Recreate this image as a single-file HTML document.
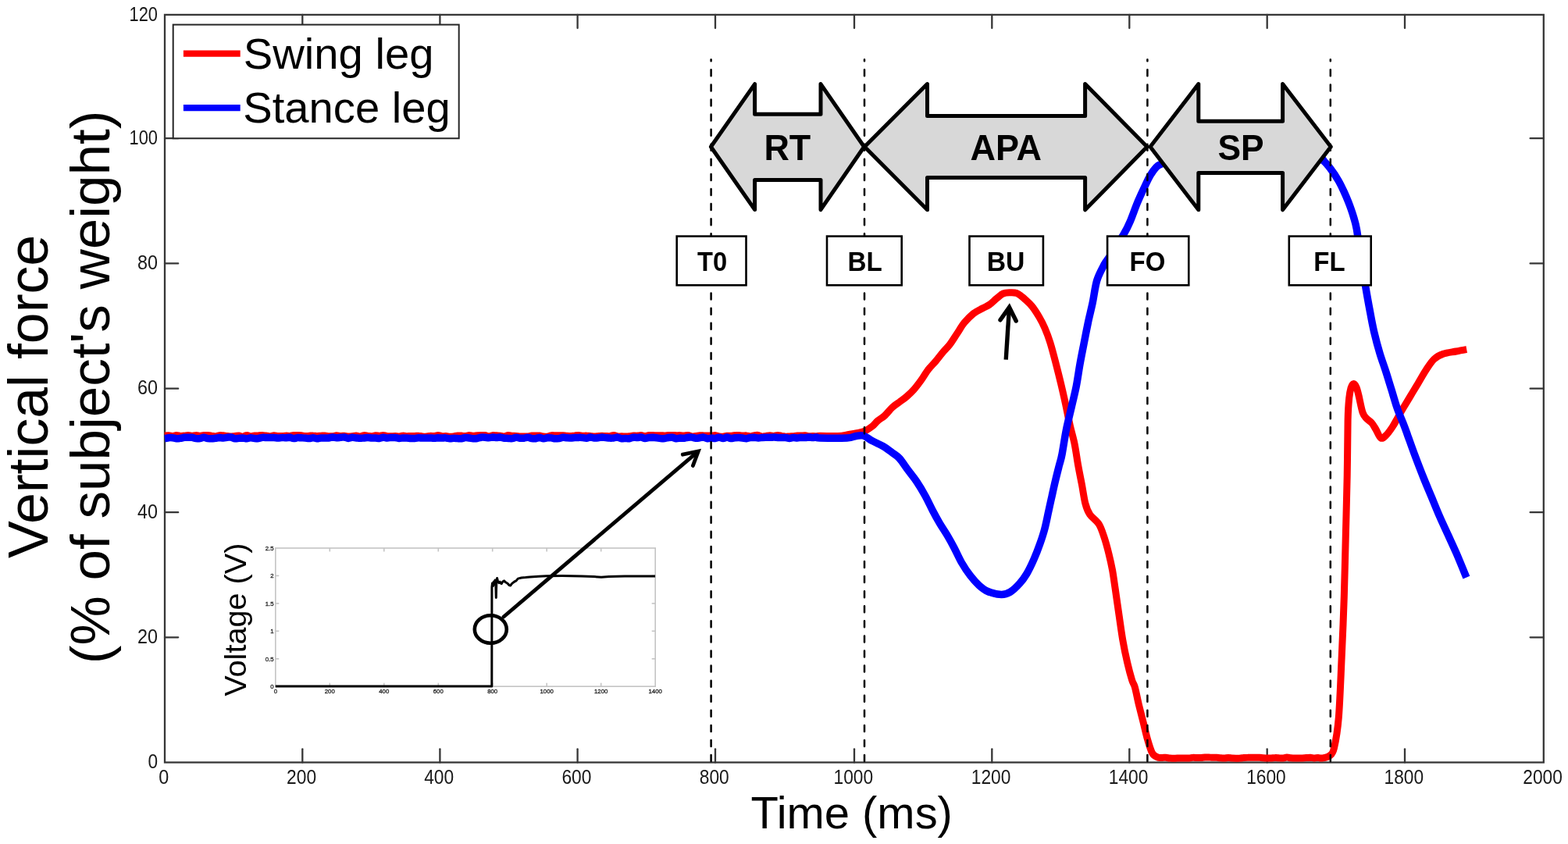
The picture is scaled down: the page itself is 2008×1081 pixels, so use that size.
<!DOCTYPE html><html><head><meta charset="utf-8"><title>Vertical force</title><style>html,body{margin:0;padding:0;background:#fff;width:2008px;height:1081px;overflow:hidden}svg{display:block}text{font-family:"Liberation Sans",Arial,sans-serif}</style></head><body>
<svg width="2008" height="1081" viewBox="0 0 2008 1081">
<rect x="0" y="0" width="2008" height="1081" fill="#fff"/>
<g stroke="#363636" stroke-width="2.3" fill="none">
<rect x="211" y="18.9" width="1765.8" height="957.6"/>
<line x1="387.3" y1="976.5" x2="387.3" y2="959.3" stroke-linecap="round"/>
<line x1="387.3" y1="18.9" x2="387.3" y2="36.1" stroke-linecap="round"/>
<line x1="563.4" y1="976.5" x2="563.4" y2="959.3" stroke-linecap="round"/>
<line x1="563.4" y1="18.9" x2="563.4" y2="36.1" stroke-linecap="round"/>
<line x1="739.6" y1="976.5" x2="739.6" y2="959.3" stroke-linecap="round"/>
<line x1="739.6" y1="18.9" x2="739.6" y2="36.1" stroke-linecap="round"/>
<line x1="916.0" y1="976.5" x2="916.0" y2="959.3" stroke-linecap="round"/>
<line x1="916.0" y1="18.9" x2="916.0" y2="36.1" stroke-linecap="round"/>
<line x1="1094.0" y1="976.5" x2="1094.0" y2="959.3" stroke-linecap="round"/>
<line x1="1094.0" y1="18.9" x2="1094.0" y2="36.1" stroke-linecap="round"/>
<line x1="1270.3" y1="976.5" x2="1270.3" y2="959.3" stroke-linecap="round"/>
<line x1="1270.3" y1="18.9" x2="1270.3" y2="36.1" stroke-linecap="round"/>
<line x1="1446.3" y1="976.5" x2="1446.3" y2="959.3" stroke-linecap="round"/>
<line x1="1446.3" y1="18.9" x2="1446.3" y2="36.1" stroke-linecap="round"/>
<line x1="1622.7" y1="976.5" x2="1622.7" y2="959.3" stroke-linecap="round"/>
<line x1="1622.7" y1="18.9" x2="1622.7" y2="36.1" stroke-linecap="round"/>
<line x1="1799.0" y1="976.5" x2="1799.0" y2="959.3" stroke-linecap="round"/>
<line x1="1799.0" y1="18.9" x2="1799.0" y2="36.1" stroke-linecap="round"/>
<line x1="211" y1="816.3" x2="228.2" y2="816.3" stroke-linecap="round"/>
<line x1="1976.8" y1="816.3" x2="1959.6" y2="816.3" stroke-linecap="round"/>
<line x1="211" y1="656.2" x2="228.2" y2="656.2" stroke-linecap="round"/>
<line x1="1976.8" y1="656.2" x2="1959.6" y2="656.2" stroke-linecap="round"/>
<line x1="211" y1="497.7" x2="228.2" y2="497.7" stroke-linecap="round"/>
<line x1="1976.8" y1="497.7" x2="1959.6" y2="497.7" stroke-linecap="round"/>
<line x1="211" y1="337.4" x2="228.2" y2="337.4" stroke-linecap="round"/>
<line x1="1976.8" y1="337.4" x2="1959.6" y2="337.4" stroke-linecap="round"/>
<line x1="211" y1="177.2" x2="228.2" y2="177.2" stroke-linecap="round"/>
<line x1="1976.8" y1="177.2" x2="1959.6" y2="177.2" stroke-linecap="round"/>
</g>
<path d="M211.0,558.0 C211.8,557.9 214.3,557.6 216.0,557.7 C217.7,557.8 219.3,558.6 221.0,558.6 C222.7,558.5 224.3,557.6 226.0,557.5 C227.7,557.5 229.3,558.3 231.0,558.4 C232.7,558.5 234.3,558.2 236.0,558.1 C237.7,557.9 239.3,557.5 241.0,557.5 C242.7,557.5 244.3,558.3 246.0,558.3 C247.7,558.3 249.3,557.5 251.0,557.5 C252.7,557.4 254.3,558.2 256.0,558.2 C257.7,558.2 259.3,557.6 261.0,557.5 C262.7,557.4 264.3,557.5 266.0,557.6 C267.7,557.7 269.3,557.9 271.0,558.2 C272.7,558.4 274.3,559.0 276.0,558.9 C277.7,558.8 279.3,557.8 281.0,557.6 C282.7,557.4 284.3,557.7 286.0,557.8 C287.7,558.0 289.3,558.3 291.0,558.5 C292.7,558.7 294.3,559.1 296.0,559.1 C297.7,559.1 299.3,558.6 301.0,558.4 C302.7,558.3 304.3,558.0 306.0,558.1 C307.7,558.2 309.3,559.3 311.0,559.2 C312.7,559.1 314.3,557.5 316.0,557.5 C317.7,557.4 319.3,558.9 321.0,558.9 C322.7,559.0 324.3,558.1 326.0,557.9 C327.7,557.7 329.3,557.7 331.0,557.7 C332.7,557.6 334.3,557.6 336.0,557.6 C337.7,557.7 339.3,557.7 341.0,558.0 C342.7,558.2 344.3,558.9 346.0,558.9 C347.7,558.8 349.3,557.8 351.0,557.7 C352.7,557.7 354.3,558.3 356.0,558.4 C357.7,558.6 359.3,558.6 361.0,558.6 C362.7,558.5 364.3,558.1 366.0,558.1 C367.7,558.0 369.3,558.5 371.0,558.4 C372.7,558.3 374.3,557.7 376.0,557.5 C377.7,557.4 379.3,557.5 381.0,557.5 C382.7,557.6 384.3,557.6 386.0,557.8 C387.7,558.0 389.3,558.6 391.0,558.6 C392.7,558.7 394.3,558.3 396.0,558.2 C397.7,558.1 399.3,557.9 401.0,558.0 C402.7,558.0 404.3,558.4 406.0,558.5 C407.7,558.5 409.3,558.3 411.0,558.2 C412.7,558.1 414.3,557.8 416.0,557.9 C417.7,558.0 419.3,558.7 421.0,558.8 C422.7,558.9 424.3,558.8 426.0,558.7 C427.7,558.5 429.3,557.9 431.0,557.8 C432.7,557.8 434.3,558.3 436.0,558.4 C437.7,558.5 439.3,558.3 441.0,558.3 C442.7,558.4 444.3,558.9 446.0,559.0 C447.7,559.0 449.3,558.9 451.0,558.7 C452.7,558.5 454.3,557.8 456.0,557.9 C457.7,558.0 459.3,559.2 461.0,559.2 C462.7,559.1 464.3,557.8 466.0,557.6 C467.7,557.4 469.3,558.0 471.0,558.2 C472.7,558.3 474.3,558.8 476.0,558.8 C477.7,558.7 479.3,557.8 481.0,557.7 C482.7,557.6 484.3,558.3 486.0,558.3 C487.7,558.2 489.3,557.4 491.0,557.5 C492.7,557.5 494.3,558.4 496.0,558.6 C497.7,558.8 499.3,558.8 501.0,558.8 C502.7,558.7 504.3,558.4 506.0,558.4 C507.7,558.5 509.3,559.1 511.0,559.0 C512.7,558.9 514.3,558.0 516.0,558.0 C517.7,557.9 519.3,558.6 521.0,558.7 C522.7,558.7 524.3,558.5 526.0,558.5 C527.7,558.4 529.3,558.5 531.0,558.4 C532.7,558.4 534.3,558.1 536.0,558.2 C537.7,558.3 539.3,558.8 541.0,558.9 C542.7,559.1 544.3,559.2 546.0,559.1 C547.7,559.0 549.3,558.3 551.0,558.3 C552.7,558.2 554.3,558.7 556.0,558.6 C557.7,558.5 559.3,557.5 561.0,557.5 C562.7,557.5 564.3,558.5 566.0,558.7 C567.7,558.8 569.3,558.5 571.0,558.6 C572.7,558.7 574.3,559.1 576.0,559.2 C577.7,559.2 579.3,559.1 581.0,558.9 C582.7,558.7 584.3,558.0 586.0,557.9 C587.7,557.8 589.3,558.0 591.0,558.1 C592.7,558.2 594.3,558.7 596.0,558.6 C597.7,558.5 599.3,557.5 601.0,557.4 C602.7,557.4 604.3,558.2 606.0,558.2 C607.7,558.3 609.3,557.8 611.0,557.7 C612.7,557.6 614.3,557.6 616.0,557.6 C617.7,557.6 619.3,557.3 621.0,557.5 C622.7,557.7 624.3,558.8 626.0,558.8 C627.7,558.8 629.3,557.8 631.0,557.6 C632.7,557.5 634.3,557.8 636.0,557.8 C637.7,557.9 639.3,557.9 641.0,558.1 C642.7,558.3 644.3,559.1 646.0,559.0 C647.7,558.9 649.3,557.7 651.0,557.5 C652.7,557.4 654.3,558.1 656.0,558.2 C657.7,558.3 659.3,558.3 661.0,558.4 C662.7,558.5 664.3,558.9 666.0,559.0 C667.7,559.1 669.3,558.9 671.0,558.9 C672.7,558.9 674.3,559.1 676.0,559.0 C677.7,558.8 679.3,558.0 681.0,557.9 C682.7,557.8 684.3,558.1 686.0,558.1 C687.7,558.2 689.3,557.9 691.0,558.0 C692.7,558.2 694.3,558.8 696.0,559.0 C697.7,559.2 699.3,559.3 701.0,559.1 C702.7,558.9 704.3,557.9 706.0,557.7 C707.7,557.4 709.3,557.7 711.0,557.7 C712.7,557.7 714.3,557.8 716.0,557.8 C717.7,557.8 719.3,557.7 721.0,557.8 C722.7,557.9 724.3,558.2 726.0,558.3 C727.7,558.4 729.3,558.5 731.0,558.5 C732.7,558.4 734.3,558.0 736.0,557.9 C737.7,557.7 739.3,557.4 741.0,557.4 C742.7,557.5 744.3,558.0 746.0,558.2 C747.7,558.3 749.3,558.0 751.0,558.1 C752.7,558.1 754.3,558.2 756.0,558.4 C757.7,558.6 759.3,559.1 761.0,559.1 C762.7,559.2 764.3,558.8 766.0,558.6 C767.7,558.5 769.3,558.3 771.0,558.3 C772.7,558.3 774.3,558.5 776.0,558.5 C777.7,558.6 779.3,558.8 781.0,558.6 C782.7,558.4 784.3,557.4 786.0,557.5 C787.7,557.6 789.3,558.8 791.0,559.0 C792.7,559.2 794.3,558.8 796.0,558.8 C797.7,558.8 799.3,559.0 801.0,559.0 C802.7,559.0 804.3,559.0 806.0,558.8 C807.7,558.7 809.3,558.2 811.0,558.1 C812.7,558.0 814.3,558.2 816.0,558.1 C817.7,558.0 819.3,557.5 821.0,557.6 C822.7,557.7 824.3,558.6 826.0,558.5 C827.7,558.5 829.3,557.7 831.0,557.5 C832.7,557.3 834.3,557.5 836.0,557.5 C837.7,557.6 839.3,557.7 841.0,557.8 C842.7,557.8 844.3,557.7 846.0,557.7 C847.7,557.7 849.3,558.0 851.0,558.0 C852.7,558.0 854.3,557.6 856.0,557.5 C857.7,557.4 859.3,557.4 861.0,557.4 C862.7,557.4 864.3,557.6 866.0,557.7 C867.7,557.7 869.3,557.5 871.0,557.6 C872.7,557.6 874.3,558.1 876.0,558.1 C877.7,558.0 879.3,557.3 881.0,557.4 C882.7,557.6 884.3,558.8 886.0,559.0 C887.7,559.2 889.3,558.7 891.0,558.5 C892.7,558.3 894.3,557.8 896.0,557.7 C897.7,557.6 899.3,557.8 901.0,557.9 C902.7,557.9 904.3,558.0 906.0,558.0 C907.7,558.1 909.3,558.1 911.0,558.1 C912.7,558.0 914.3,557.5 916.0,557.6 C917.7,557.8 919.3,558.7 921.0,558.9 C922.7,559.2 924.3,559.3 926.0,559.2 C927.7,559.1 929.3,558.4 931.0,558.2 C932.7,558.1 934.3,558.4 936.0,558.3 C937.7,558.2 939.3,557.7 941.0,557.6 C942.7,557.4 944.3,557.5 946.0,557.6 C947.7,557.7 949.3,558.0 951.0,558.0 C952.7,558.1 954.3,557.7 956.0,557.9 C957.7,558.0 959.3,558.9 961.0,558.9 C962.7,558.9 964.3,557.9 966.0,557.7 C967.7,557.4 969.3,557.2 971.0,557.4 C972.7,557.7 974.3,559.0 976.0,559.1 C977.7,559.3 979.3,558.6 981.0,558.4 C982.7,558.1 984.3,557.7 986.0,557.7 C987.7,557.7 989.3,558.4 991.0,558.4 C992.7,558.3 994.3,557.5 996.0,557.4 C997.7,557.4 999.3,558.1 1001.0,558.4 C1002.7,558.6 1004.3,559.1 1006.0,559.2 C1007.7,559.3 1009.3,559.0 1011.0,559.0 C1012.7,558.9 1014.3,558.8 1016.0,558.7 C1017.7,558.5 1019.3,558.0 1021.0,557.9 C1022.7,557.8 1024.3,558.1 1026.0,558.1 C1027.7,558.0 1029.3,557.6 1031.0,557.7 C1032.7,557.8 1034.3,558.7 1036.0,558.8 C1037.7,558.9 1039.3,558.4 1041.0,558.4 C1042.7,558.4 1044.5,558.8 1046.0,558.8 C1047.5,558.8 1045.5,558.4 1050.0,558.3 C1054.5,558.2 1066.8,558.8 1073.0,558.5 C1079.2,558.2 1083.2,557.1 1087.0,556.5 C1090.8,555.9 1092.7,555.7 1096.0,555.0 C1099.3,554.3 1103.2,554.0 1106.7,552.5 C1110.2,551.0 1114.1,548.2 1117.0,546.0 C1119.9,543.8 1121.3,541.3 1124.0,539.0 C1126.7,536.7 1129.9,535.1 1133.0,532.3 C1136.1,529.5 1139.4,524.9 1142.5,522.0 C1145.6,519.1 1148.7,517.3 1151.8,515.0 C1154.9,512.7 1157.9,510.7 1161.0,508.0 C1164.1,505.3 1167.2,502.5 1170.3,499.0 C1173.4,495.5 1176.4,491.5 1179.5,487.2 C1182.6,482.9 1185.7,477.3 1188.8,473.3 C1191.9,469.3 1194.9,466.6 1198.0,463.0 C1201.1,459.4 1204.2,455.1 1207.3,451.4 C1210.4,447.7 1213.4,445.1 1216.5,441.0 C1219.6,436.9 1222.7,431.6 1225.8,427.0 C1228.9,422.4 1231.5,417.4 1235.0,413.2 C1238.5,409.0 1242.8,404.6 1246.6,401.6 C1250.4,398.6 1254.5,396.9 1258.0,395.0 C1261.5,393.1 1264.3,392.2 1267.4,390.0 C1270.5,387.8 1273.7,384.3 1276.6,382.0 C1279.5,379.7 1281.8,377.2 1284.7,376.0 C1287.6,374.8 1291.0,374.9 1293.9,374.8 C1296.8,374.7 1299.7,374.7 1302.0,375.5 C1304.3,376.3 1306.3,378.2 1308.0,379.5 C1309.7,380.8 1310.1,381.0 1312.4,383.1 C1314.7,385.2 1318.6,388.5 1321.7,392.4 C1324.8,396.3 1328.2,401.7 1330.9,406.3 C1333.6,410.9 1335.6,414.7 1337.9,420.1 C1340.2,425.5 1342.5,431.3 1344.8,438.6 C1347.1,445.9 1349.5,455.2 1351.8,464.1 C1354.1,473.0 1356.6,482.9 1358.7,491.8 C1360.8,500.7 1362.6,508.4 1364.5,517.3 C1366.4,526.2 1368.4,536.5 1370.3,545.0 C1372.2,553.5 1374.3,559.8 1376.0,568.1 C1377.7,576.4 1379.0,586.4 1380.5,595.0 C1382.0,603.6 1383.7,611.7 1385.3,620.0 C1386.9,628.3 1388.2,638.5 1389.9,645.0 C1391.6,651.5 1392.8,654.6 1395.7,659.0 C1398.6,663.4 1404.2,666.4 1407.3,671.4 C1410.4,676.4 1412.1,682.4 1414.2,688.7 C1416.3,695.1 1418.3,702.6 1420.0,709.5 C1421.7,716.4 1423.2,723.0 1424.6,730.3 C1425.9,737.6 1426.6,743.6 1428.1,753.5 C1429.5,763.4 1431.7,778.6 1433.3,789.6 C1434.9,800.6 1436.0,809.3 1437.7,819.2 C1439.4,829.1 1441.7,840.2 1443.7,848.8 C1445.7,857.4 1448.0,865.8 1449.6,871.0 C1451.2,876.2 1451.8,874.8 1453.3,880.0 C1454.8,885.2 1456.5,894.8 1458.3,902.2 C1460.1,909.6 1462.1,917.0 1463.9,924.4 C1465.8,931.8 1467.5,939.9 1469.4,946.6 C1471.3,953.3 1473.4,960.5 1475.5,964.4 C1477.6,968.3 1480.1,968.9 1482.2,969.9 C1484.3,970.9 1486.2,970.3 1488.0,970.4 C1489.8,970.5 1491.3,970.2 1493.0,970.3 C1494.7,970.4 1496.3,970.8 1498.0,971.0 C1499.7,971.1 1501.3,971.2 1503.0,971.2 C1504.7,971.2 1506.3,971.1 1508.0,971.0 C1509.7,971.0 1511.3,971.0 1513.0,971.0 C1514.7,971.0 1516.3,971.0 1518.0,971.0 C1519.7,971.0 1521.3,971.0 1523.0,970.9 C1524.7,970.8 1526.3,970.3 1528.0,970.3 C1529.7,970.2 1531.3,970.6 1533.0,970.6 C1534.7,970.6 1536.3,970.5 1538.0,970.4 C1539.7,970.3 1541.3,970.1 1543.0,970.0 C1544.7,970.0 1546.3,970.0 1548.0,970.0 C1549.7,970.1 1551.3,970.3 1553.0,970.3 C1554.7,970.4 1556.3,970.2 1558.0,970.3 C1559.7,970.4 1561.3,970.7 1563.0,970.8 C1564.7,971.0 1566.3,971.2 1568.0,971.1 C1569.7,971.1 1571.3,970.5 1573.0,970.5 C1574.7,970.5 1576.3,971.0 1578.0,971.1 C1579.7,971.2 1581.3,971.2 1583.0,971.2 C1584.7,971.2 1586.3,971.3 1588.0,971.1 C1589.7,971.0 1591.3,970.6 1593.0,970.4 C1594.7,970.3 1596.3,970.3 1598.0,970.3 C1599.7,970.2 1601.3,970.3 1603.0,970.3 C1604.7,970.3 1606.3,970.2 1608.0,970.2 C1609.7,970.2 1611.3,970.2 1613.0,970.2 C1614.7,970.3 1616.3,970.6 1618.0,970.7 C1619.7,970.9 1621.3,971.0 1623.0,971.1 C1624.7,971.1 1626.3,971.1 1628.0,971.0 C1629.7,970.9 1631.3,970.6 1633.0,970.6 C1634.7,970.5 1636.3,970.7 1638.0,970.8 C1639.7,970.8 1641.3,971.1 1643.0,971.0 C1644.7,970.8 1646.3,970.1 1648.0,970.1 C1649.7,970.1 1651.3,970.6 1653.0,970.8 C1654.7,971.0 1656.3,971.1 1658.0,971.1 C1659.7,971.1 1661.3,971.0 1663.0,970.9 C1664.7,970.9 1666.3,971.0 1668.0,970.9 C1669.7,970.8 1671.3,970.7 1673.0,970.6 C1674.7,970.5 1676.3,970.2 1678.0,970.2 C1679.7,970.3 1681.3,970.9 1683.0,970.9 C1684.7,971.0 1686.3,970.4 1688.0,970.4 C1689.7,970.4 1690.5,971.4 1693.0,971.0 C1695.5,970.6 1700.1,970.2 1702.7,968.0 C1705.3,965.8 1706.6,966.1 1708.5,958.0 C1710.4,949.9 1712.7,938.6 1714.3,919.2 C1715.9,899.8 1717.0,867.5 1718.2,841.6 C1719.4,815.7 1720.5,789.9 1721.3,764.0 C1722.1,738.1 1722.6,712.3 1723.3,686.4 C1724.0,660.5 1724.7,633.6 1725.2,608.8 C1725.7,584.0 1725.7,554.2 1726.1,537.7 C1726.5,521.2 1727.0,516.8 1727.7,510.0 C1728.4,503.2 1729.1,500.1 1730.0,497.0 C1730.9,493.9 1732.1,491.8 1733.3,491.6 C1734.5,491.4 1735.9,493.5 1737.0,496.0 C1738.1,498.5 1738.7,501.2 1740.0,506.6 C1741.3,512.0 1743.3,523.3 1745.0,528.2 C1746.7,533.1 1748.1,533.8 1750.0,536.0 C1751.9,538.2 1754.6,539.3 1756.6,541.6 C1758.6,543.9 1760.0,546.8 1762.0,550.0 C1764.0,553.2 1766.1,559.8 1768.3,561.0 C1770.5,562.2 1772.5,559.9 1775.0,557.5 C1777.5,555.1 1780.8,550.4 1783.3,546.6 C1785.8,542.9 1787.8,538.9 1790.0,535.0 C1792.2,531.1 1793.8,527.9 1796.6,523.2 C1799.4,518.5 1803.3,512.1 1806.6,506.6 C1809.9,501.1 1813.3,495.6 1816.6,490.0 C1819.9,484.4 1823.3,478.3 1826.6,473.3 C1829.9,468.3 1832.9,463.3 1836.5,460.0 C1840.1,456.7 1843.5,455.0 1848.2,453.3 C1852.9,451.6 1859.9,451.0 1864.9,450.0 C1869.9,449.0 1876.0,447.9 1878.2,447.5" fill="none" stroke="#ff0000" stroke-width="9" stroke-linejoin="round"/>
<path d="M211.0,561.7 C211.8,561.6 214.3,560.9 216.0,560.7 C217.7,560.5 219.3,560.6 221.0,560.7 C222.7,560.9 224.3,561.6 226.0,561.7 C227.7,561.8 229.3,561.5 231.0,561.3 C232.7,561.1 234.3,560.5 236.0,560.3 C237.7,560.1 239.3,560.2 241.0,560.2 C242.7,560.2 244.3,560.0 246.0,560.3 C247.7,560.5 249.3,561.4 251.0,561.6 C252.7,561.8 254.3,561.7 256.0,561.5 C257.7,561.2 259.3,560.3 261.0,560.3 C262.7,560.3 264.3,561.2 266.0,561.5 C267.7,561.7 269.3,561.8 271.0,561.8 C272.7,561.7 274.3,561.4 276.0,561.2 C277.7,561.0 279.3,560.7 281.0,560.6 C282.7,560.6 284.3,561.1 286.0,561.0 C287.7,560.9 289.3,560.4 291.0,560.2 C292.7,560.1 294.3,559.8 296.0,560.0 C297.7,560.3 299.3,561.6 301.0,561.7 C302.7,561.9 304.3,561.3 306.0,561.2 C307.7,561.0 309.3,560.9 311.0,560.9 C312.7,561.0 314.3,561.7 316.0,561.7 C317.7,561.7 319.3,560.8 321.0,560.8 C322.7,560.8 324.3,561.5 326.0,561.6 C327.7,561.7 329.3,561.7 331.0,561.5 C332.7,561.3 334.3,560.6 336.0,560.4 C337.7,560.2 339.3,560.4 341.0,560.5 C342.7,560.5 344.3,560.5 346.0,560.5 C347.7,560.5 349.3,560.3 351.0,560.4 C352.7,560.5 354.3,561.0 356.0,561.1 C357.7,561.1 359.3,560.5 361.0,560.5 C362.7,560.4 364.3,560.8 366.0,560.8 C367.7,560.7 369.3,560.1 371.0,560.2 C372.7,560.4 374.3,561.6 376.0,561.6 C377.7,561.7 379.3,560.8 381.0,560.6 C382.7,560.5 384.3,560.8 386.0,560.8 C387.7,560.9 389.3,560.9 391.0,561.1 C392.7,561.2 394.3,561.7 396.0,561.6 C397.7,561.6 399.3,560.8 401.0,560.8 C402.7,560.8 404.3,561.6 406.0,561.7 C407.7,561.7 409.3,561.0 411.0,560.9 C412.7,560.8 414.3,561.0 416.0,561.0 C417.7,561.0 419.3,561.1 421.0,560.9 C422.7,560.8 424.3,560.1 426.0,560.0 C427.7,560.0 429.3,560.7 431.0,560.8 C432.7,560.8 434.3,560.5 436.0,560.3 C437.7,560.2 439.3,559.8 441.0,560.0 C442.7,560.2 444.3,561.4 446.0,561.4 C447.7,561.5 449.3,560.4 451.0,560.3 C452.7,560.2 454.3,560.7 456.0,560.9 C457.7,561.0 459.3,561.3 461.0,561.3 C462.7,561.3 464.3,561.1 466.0,561.0 C467.7,560.9 469.3,560.6 471.0,560.6 C472.7,560.6 474.3,560.9 476.0,560.9 C477.7,561.0 479.3,560.9 481.0,561.0 C482.7,561.1 484.3,561.5 486.0,561.4 C487.7,561.3 489.3,560.3 491.0,560.2 C492.7,560.1 494.3,561.0 496.0,561.0 C497.7,561.1 499.3,560.5 501.0,560.4 C502.7,560.4 504.3,560.3 506.0,560.5 C507.7,560.7 509.3,561.3 511.0,561.4 C512.7,561.5 514.3,561.0 516.0,560.9 C517.7,560.9 519.3,560.9 521.0,561.0 C522.7,561.1 524.3,561.3 526.0,561.4 C527.7,561.5 529.3,561.7 531.0,561.6 C532.7,561.5 534.3,560.9 536.0,560.8 C537.7,560.7 539.3,561.1 541.0,561.1 C542.7,561.1 544.3,560.9 546.0,560.9 C547.7,560.9 549.3,560.9 551.0,560.9 C552.7,561.0 554.3,561.3 556.0,561.2 C557.7,561.2 559.3,560.9 561.0,560.8 C562.7,560.8 564.3,561.0 566.0,561.0 C567.7,561.0 569.3,560.7 571.0,560.9 C572.7,561.0 574.3,561.6 576.0,561.7 C577.7,561.8 579.3,561.3 581.0,561.3 C582.7,561.2 584.3,561.5 586.0,561.6 C587.7,561.7 589.3,561.9 591.0,561.7 C592.7,561.5 594.3,560.6 596.0,560.5 C597.7,560.4 599.3,560.8 601.0,561.0 C602.7,561.2 604.3,561.6 606.0,561.7 C607.7,561.8 609.3,561.8 611.0,561.5 C612.7,561.3 614.3,560.5 616.0,560.2 C617.7,560.0 619.3,560.1 621.0,560.2 C622.7,560.3 624.3,560.8 626.0,560.8 C627.7,560.8 629.3,560.2 631.0,560.1 C632.7,560.1 634.3,560.4 636.0,560.4 C637.7,560.4 639.3,560.0 641.0,560.1 C642.7,560.3 644.3,561.0 646.0,561.2 C647.7,561.4 649.3,561.3 651.0,561.4 C652.7,561.5 654.3,561.8 656.0,561.6 C657.7,561.4 659.3,560.3 661.0,560.3 C662.7,560.2 664.3,561.1 666.0,561.3 C667.7,561.4 669.3,561.4 671.0,561.2 C672.7,561.0 674.3,560.2 676.0,560.3 C677.7,560.3 679.3,561.3 681.0,561.6 C682.7,561.8 684.3,561.9 686.0,561.7 C687.7,561.5 689.3,560.4 691.0,560.4 C692.7,560.4 694.3,561.7 696.0,561.7 C697.7,561.8 699.3,560.9 701.0,560.7 C702.7,560.6 704.3,560.7 706.0,560.9 C707.7,561.1 709.3,561.7 711.0,561.8 C712.7,561.9 714.3,561.7 716.0,561.5 C717.7,561.2 719.3,560.4 721.0,560.3 C722.7,560.2 724.3,560.7 726.0,560.8 C727.7,560.9 729.3,561.0 731.0,560.9 C732.7,560.9 734.3,560.7 736.0,560.6 C737.7,560.5 739.3,560.4 741.0,560.4 C742.7,560.3 744.3,560.4 746.0,560.6 C747.7,560.7 749.3,561.4 751.0,561.3 C752.7,561.2 754.3,560.1 756.0,560.0 C757.7,560.0 759.3,560.9 761.0,561.0 C762.7,561.1 764.3,561.0 766.0,560.8 C767.7,560.6 769.3,560.1 771.0,560.0 C772.7,560.0 774.3,560.4 776.0,560.6 C777.7,560.8 779.3,561.1 781.0,561.1 C782.7,561.2 784.3,561.1 786.0,560.9 C787.7,560.8 789.3,560.0 791.0,560.1 C792.7,560.3 794.3,561.6 796.0,561.8 C797.7,562.0 799.3,561.4 801.0,561.4 C802.7,561.4 804.3,562.0 806.0,561.7 C807.7,561.5 809.3,560.4 811.0,560.2 C812.7,560.0 814.3,560.5 816.0,560.5 C817.7,560.5 819.3,559.9 821.0,560.1 C822.7,560.2 824.3,561.3 826.0,561.4 C827.7,561.5 829.3,560.7 831.0,560.5 C832.7,560.3 834.3,560.2 836.0,560.2 C837.7,560.3 839.3,560.5 841.0,560.8 C842.7,561.0 844.3,561.5 846.0,561.6 C847.7,561.8 849.3,561.7 851.0,561.5 C852.7,561.3 854.3,560.7 856.0,560.5 C857.7,560.3 859.3,560.1 861.0,560.3 C862.7,560.5 864.3,561.5 866.0,561.7 C867.7,561.8 869.3,561.1 871.0,561.0 C872.7,561.0 874.3,561.4 876.0,561.3 C877.7,561.1 879.3,560.4 881.0,560.2 C882.7,560.0 884.3,559.9 886.0,560.1 C887.7,560.3 889.3,561.1 891.0,561.2 C892.7,561.3 894.3,561.0 896.0,560.8 C897.7,560.6 899.3,560.0 901.0,560.1 C902.7,560.3 904.3,561.5 906.0,561.7 C907.7,561.9 909.3,561.2 911.0,561.1 C912.7,561.1 914.3,561.6 916.0,561.4 C917.7,561.3 919.3,560.1 921.0,560.2 C922.7,560.2 924.3,561.5 926.0,561.5 C927.7,561.5 929.3,560.1 931.0,560.1 C932.7,560.1 934.3,561.4 936.0,561.6 C937.7,561.7 939.3,561.0 941.0,560.8 C942.7,560.7 944.3,560.6 946.0,560.6 C947.7,560.6 949.3,560.8 951.0,561.0 C952.7,561.2 954.3,561.8 956.0,561.7 C957.7,561.6 959.3,560.7 961.0,560.5 C962.7,560.2 964.3,560.2 966.0,560.2 C967.7,560.3 969.3,560.9 971.0,560.9 C972.7,561.0 974.3,560.6 976.0,560.4 C977.7,560.3 979.3,560.2 981.0,560.2 C982.7,560.2 984.3,560.3 986.0,560.3 C987.7,560.3 989.3,560.1 991.0,560.1 C992.7,560.1 994.3,560.3 996.0,560.4 C997.7,560.4 999.3,560.5 1001.0,560.6 C1002.7,560.6 1004.3,560.4 1006.0,560.5 C1007.7,560.7 1009.3,561.4 1011.0,561.4 C1012.7,561.4 1014.3,560.6 1016.0,560.5 C1017.7,560.4 1019.3,560.9 1021.0,560.9 C1022.7,560.9 1024.3,560.4 1026.0,560.3 C1027.7,560.3 1029.3,560.7 1031.0,560.6 C1032.7,560.6 1034.3,560.1 1036.0,560.0 C1037.7,560.0 1039.3,560.5 1041.0,560.5 C1042.7,560.4 1044.5,559.9 1046.0,560.0 C1047.5,560.1 1043.5,560.8 1050.0,561.0 C1056.5,561.2 1077.0,561.4 1084.7,561.0 C1092.4,560.6 1092.8,559.0 1096.3,558.5 C1099.8,558.0 1102.0,557.0 1105.5,558.0 C1109.0,559.0 1112.8,562.4 1117.0,564.7 C1121.2,567.0 1126.8,569.1 1131.0,571.6 C1135.2,574.1 1139.0,577.1 1142.5,579.7 C1146.0,582.3 1148.4,583.2 1151.8,587.0 C1155.2,590.8 1159.2,597.2 1162.9,602.2 C1166.6,607.2 1170.3,611.5 1174.0,617.0 C1177.7,622.5 1181.7,629.3 1185.1,635.5 C1188.5,641.7 1191.3,648.1 1194.4,654.0 C1197.5,659.9 1200.5,665.4 1203.6,670.6 C1206.7,675.8 1209.8,680.2 1212.9,685.4 C1216.0,690.6 1219.0,696.1 1222.1,702.0 C1225.2,707.9 1228.0,714.6 1231.4,720.5 C1234.8,726.4 1238.8,732.4 1242.5,737.2 C1246.2,742.0 1249.8,746.1 1253.5,749.5 C1257.2,752.9 1260.2,755.5 1265.0,757.5 C1269.8,759.5 1277.6,761.4 1282.4,761.5 C1287.2,761.6 1290.1,760.4 1293.9,758.1 C1297.8,755.8 1302.0,751.6 1305.5,747.7 C1309.0,743.9 1311.7,740.2 1314.8,735.0 C1317.9,729.8 1321.1,723.0 1324.0,716.4 C1326.9,709.8 1329.8,702.1 1332.1,695.6 C1334.4,689.1 1336.2,683.7 1337.9,677.1 C1339.6,670.5 1341.0,663.2 1342.5,656.3 C1344.0,649.4 1345.5,642.4 1347.1,635.5 C1348.6,628.6 1350.2,621.2 1351.8,614.7 C1353.3,608.2 1355.0,601.7 1356.4,596.2 C1357.8,590.8 1358.5,589.8 1360.0,582.0 C1361.5,574.2 1363.5,560.0 1365.6,549.6 C1367.7,539.2 1370.5,528.9 1372.6,519.6 C1374.7,510.4 1376.7,503.0 1378.4,494.1 C1380.1,485.2 1381.3,476.0 1383.0,466.4 C1384.7,456.8 1387.1,445.2 1388.8,436.3 C1390.5,427.4 1391.7,421.3 1393.4,413.2 C1395.1,405.1 1397.3,396.8 1399.2,387.8 C1401.1,378.8 1402.3,367.1 1404.8,359.0 C1407.3,350.9 1411.5,343.8 1414.0,339.0 C1416.5,334.2 1417.3,334.2 1420.0,330.0 C1422.7,325.8 1426.8,319.0 1430.0,314.0 C1433.2,309.0 1436.1,305.3 1439.0,300.2 C1441.9,295.1 1444.4,290.4 1447.3,283.6 C1450.2,276.8 1453.5,266.9 1456.6,259.5 C1459.7,252.1 1463.0,245.0 1465.8,239.2 C1468.6,233.3 1470.7,228.6 1473.2,224.4 C1475.7,220.2 1478.4,216.5 1480.6,214.2 C1482.8,211.9 1483.0,211.7 1486.2,210.5 C1489.4,209.3 1491.0,207.1 1500.0,207.0 C1509.0,206.9 1523.3,210.0 1540.0,210.0 C1556.7,210.0 1581.7,207.8 1600.0,207.0 C1618.3,206.2 1634.9,205.4 1650.0,205.0 C1665.1,204.6 1683.0,204.6 1690.4,204.7 C1697.8,204.8 1692.4,203.7 1694.6,205.6 C1696.8,207.5 1700.5,211.6 1703.7,215.9 C1707.0,220.2 1711.1,226.3 1714.1,231.5 C1717.1,236.7 1719.4,241.8 1721.8,247.0 C1724.2,252.2 1726.3,257.4 1728.3,262.6 C1730.2,267.8 1732.0,272.9 1733.5,278.1 C1735.0,283.3 1735.9,285.1 1737.4,293.7 C1738.9,302.3 1740.7,318.0 1742.5,330.0 C1744.3,342.0 1746.6,354.4 1748.5,365.6 C1750.4,376.8 1752.2,387.1 1754.1,397.0 C1755.9,406.9 1757.4,415.5 1759.6,424.8 C1761.8,434.1 1764.5,444.3 1767.0,452.6 C1769.5,460.9 1771.9,467.1 1774.4,474.8 C1776.9,482.5 1779.4,490.9 1781.9,498.9 C1784.4,506.9 1786.8,515.9 1789.3,523.0 C1791.8,530.1 1794.5,536.0 1796.7,541.5 C1798.9,547.0 1799.7,549.3 1802.2,556.3 C1804.7,563.2 1808.5,574.1 1811.9,583.2 C1815.3,592.3 1819.0,602.0 1822.6,610.9 C1826.1,619.8 1829.7,627.9 1833.2,636.4 C1836.7,644.9 1840.2,653.8 1843.8,661.9 C1847.3,670.0 1851.0,677.5 1854.5,685.3 C1858.0,693.1 1861.2,699.7 1865.1,708.7 C1869.0,717.8 1875.8,734.5 1877.9,739.6" fill="none" stroke="#0000ff" stroke-width="9.5" stroke-linejoin="round"/>
<g fill="#1a1a1a" font-size="25.4">
<text x="209.8" y="1004.2" text-anchor="middle" textLength="13.0" lengthAdjust="spacingAndGlyphs">0</text>
<text x="386.1" y="1004.2" text-anchor="middle" textLength="38.0" lengthAdjust="spacingAndGlyphs">200</text>
<text x="562.2" y="1004.2" text-anchor="middle" textLength="38.0" lengthAdjust="spacingAndGlyphs">400</text>
<text x="738.4" y="1004.2" text-anchor="middle" textLength="38.0" lengthAdjust="spacingAndGlyphs">600</text>
<text x="914.8" y="1004.2" text-anchor="middle" textLength="38.0" lengthAdjust="spacingAndGlyphs">800</text>
<text x="1092.8" y="1004.2" text-anchor="middle" textLength="50.5" lengthAdjust="spacingAndGlyphs">1000</text>
<text x="1269.1" y="1004.2" text-anchor="middle" textLength="50.5" lengthAdjust="spacingAndGlyphs">1200</text>
<text x="1445.1" y="1004.2" text-anchor="middle" textLength="50.5" lengthAdjust="spacingAndGlyphs">1400</text>
<text x="1621.5" y="1004.2" text-anchor="middle" textLength="50.5" lengthAdjust="spacingAndGlyphs">1600</text>
<text x="1797.8" y="1004.2" text-anchor="middle" textLength="50.5" lengthAdjust="spacingAndGlyphs">1800</text>
<text x="1975.6" y="1004.2" text-anchor="middle" textLength="50.5" lengthAdjust="spacingAndGlyphs">2000</text>
<text x="202.0" y="984.1" text-anchor="end" textLength="12.6" lengthAdjust="spacingAndGlyphs">0</text>
<text x="202.0" y="823.9" text-anchor="end" textLength="26.0" lengthAdjust="spacingAndGlyphs">20</text>
<text x="202.0" y="663.8" text-anchor="end" textLength="26.0" lengthAdjust="spacingAndGlyphs">40</text>
<text x="202.0" y="505.3" text-anchor="end" textLength="26.0" lengthAdjust="spacingAndGlyphs">60</text>
<text x="202.0" y="345.1" text-anchor="end" textLength="26.0" lengthAdjust="spacingAndGlyphs">80</text>
<text x="202.0" y="184.8" text-anchor="end" textLength="36.4" lengthAdjust="spacingAndGlyphs">100</text>
<text x="202.0" y="26.5" text-anchor="end" textLength="36.4" lengthAdjust="spacingAndGlyphs">120</text>
</g>
<text x="961.40" y="1061.00" font-size="56.65" textLength="258.51" lengthAdjust="spacingAndGlyphs" fill="#000">Time (ms)</text>
<text transform="translate(60.90,714.90) rotate(-90)" font-size="72.19" textLength="414.05" lengthAdjust="spacingAndGlyphs" fill="#000">Vertical force</text>
<text transform="translate(140.20,850.20) rotate(-90)" font-size="70.63" textLength="708.73" lengthAdjust="spacingAndGlyphs" fill="#000">(% of subject's weight)</text>
<g stroke="#000" stroke-width="2.5" stroke-dasharray="8.0 11.08" stroke-dashoffset="-1.25" stroke-linecap="round" fill="none">
<line x1="910.6" y1="976.3" x2="910.6" y2="76.2"/>
<line x1="1107.0" y1="976.3" x2="1107.0" y2="76.2"/>
<line x1="1469.4" y1="976.3" x2="1469.4" y2="76.2"/>
<line x1="1703.8" y1="976.3" x2="1703.8" y2="76.2"/>
</g>
<g fill="#d8d8d8" stroke="#000" stroke-width="5" stroke-linejoin="round">
<path d="M910.4,188.0 L966.6,107.6 L966.6,146.2 L1051.0,146.2 L1051.0,107.6 L1106.6,188.0 L1051.0,268.6 L1051.0,230.6 L966.6,230.6 L966.6,268.6 Z"/>
<path d="M1107.2,188.0 L1187.5,107.6 L1187.5,148.6 L1389.6,148.6 L1389.6,107.6 L1469.0,188.0 L1389.6,268.8 L1389.6,227.6 L1187.5,227.6 L1187.5,268.8 Z"/>
<path d="M1473.0,188.0 L1534.8,107.6 L1534.8,155.2 L1642.6,155.2 L1642.6,107.6 L1704.3,188.0 L1642.6,268.8 L1642.6,221.4 L1534.8,221.4 L1534.8,268.8 Z"/>
</g>
<text x="1008.30" y="204.70" font-size="45.60" font-weight="bold" text-anchor="middle" textLength="59.82" lengthAdjust="spacingAndGlyphs" fill="#000">RT</text>
<text x="1288.30" y="204.70" font-size="45.60" font-weight="bold" text-anchor="middle" textLength="91.64" lengthAdjust="spacingAndGlyphs" fill="#000">APA</text>
<text x="1589.00" y="204.70" font-size="45.60" font-weight="bold" text-anchor="middle" textLength="59.18" lengthAdjust="spacingAndGlyphs" fill="#000">SP</text>
<g>
<rect x="866.7" y="302.6" width="88.8" height="62.7" fill="#fff" stroke="#000" stroke-width="2.6"/>
<rect x="1059.0" y="302.6" width="95.7" height="62.7" fill="#fff" stroke="#000" stroke-width="2.6"/>
<rect x="1241.5" y="302.6" width="94.4" height="62.7" fill="#fff" stroke="#000" stroke-width="2.6"/>
<rect x="1418.1" y="302.6" width="104.2" height="62.7" fill="#fff" stroke="#000" stroke-width="2.6"/>
<rect x="1650.8" y="302.6" width="104.9" height="62.7" fill="#fff" stroke="#000" stroke-width="2.6"/>
<text x="912.10" y="346.60" font-size="35.60" font-weight="bold" text-anchor="middle" textLength="38.07" lengthAdjust="spacingAndGlyphs" fill="#000">T0</text>
<text x="1107.70" y="346.60" font-size="35.60" font-weight="bold" text-anchor="middle" textLength="44.25" lengthAdjust="spacingAndGlyphs" fill="#000">BL</text>
<text x="1288.10" y="346.60" font-size="35.60" font-weight="bold" text-anchor="middle" textLength="48.73" lengthAdjust="spacingAndGlyphs" fill="#000">BU</text>
<text x="1469.50" y="346.60" font-size="35.60" font-weight="bold" text-anchor="middle" textLength="45.78" lengthAdjust="spacingAndGlyphs" fill="#000">FO</text>
<text x="1702.50" y="346.60" font-size="35.60" font-weight="bold" text-anchor="middle" textLength="40.28" lengthAdjust="spacingAndGlyphs" fill="#000">FL</text>
</g>
<line x1="1288.2" y1="460.6" x2="1292.4" y2="395" stroke="#000" stroke-width="5.4" stroke-linecap="butt"/>
<polyline points="1281,409.8 1292.5,393.6 1301.2,411" fill="none" stroke="#000" stroke-width="5.4" stroke-linecap="round" stroke-linejoin="miter" stroke-miterlimit="10"/>
<rect x="221.7" y="31.6" width="366" height="145.65" fill="#fff" stroke="#262626" stroke-width="2"/>
<line x1="234.9" y1="68.7" x2="307.7" y2="68.7" stroke="#ff0000" stroke-width="8.2"/>
<line x1="234.9" y1="138.2" x2="307.7" y2="138.2" stroke="#0000ff" stroke-width="8.2"/>
<text x="311.70" y="88.10" font-size="54.58" textLength="243.80" lengthAdjust="spacingAndGlyphs" fill="#000">Swing leg</text>
<text x="311.30" y="157.20" font-size="54.58" textLength="265.38" lengthAdjust="spacingAndGlyphs" fill="#000">Stance leg</text>
<g stroke="#c4c4c4" stroke-width="1.6" fill="none">
<rect x="352.8" y="702.0" width="486.4" height="177.2"/>
<line x1="422.3" y1="879.2" x2="422.3" y2="874.7"/>
<line x1="422.3" y1="702.0" x2="422.3" y2="706.5"/>
<line x1="491.8" y1="879.2" x2="491.8" y2="874.7"/>
<line x1="491.8" y1="702.0" x2="491.8" y2="706.5"/>
<line x1="561.3" y1="879.2" x2="561.3" y2="874.7"/>
<line x1="561.3" y1="702.0" x2="561.3" y2="706.5"/>
<line x1="630.7" y1="879.2" x2="630.7" y2="874.7"/>
<line x1="630.7" y1="702.0" x2="630.7" y2="706.5"/>
<line x1="700.2" y1="879.2" x2="700.2" y2="874.7"/>
<line x1="700.2" y1="702.0" x2="700.2" y2="706.5"/>
<line x1="769.7" y1="879.2" x2="769.7" y2="874.7"/>
<line x1="769.7" y1="702.0" x2="769.7" y2="706.5"/>
<line x1="352.8" y1="843.8" x2="357.3" y2="843.8"/>
<line x1="839.2" y1="843.8" x2="834.7" y2="843.8"/>
<line x1="352.8" y1="808.3" x2="357.3" y2="808.3"/>
<line x1="839.2" y1="808.3" x2="834.7" y2="808.3"/>
<line x1="352.8" y1="772.9" x2="357.3" y2="772.9"/>
<line x1="839.2" y1="772.9" x2="834.7" y2="772.9"/>
<line x1="352.8" y1="737.4" x2="357.3" y2="737.4"/>
<line x1="839.2" y1="737.4" x2="834.7" y2="737.4"/>
</g>
<g fill="#262626" stroke="#262626" stroke-width="0.3" font-size="7.8">
<text x="352.8" y="887.6" text-anchor="middle">0</text>
<text x="422.3" y="887.6" text-anchor="middle">200</text>
<text x="491.8" y="887.6" text-anchor="middle">400</text>
<text x="561.3" y="887.6" text-anchor="middle">600</text>
<text x="630.7" y="887.6" text-anchor="middle">800</text>
<text x="700.2" y="887.6" text-anchor="middle">1000</text>
<text x="769.7" y="887.6" text-anchor="middle">1200</text>
<text x="839.2" y="887.6" text-anchor="middle">1400</text>
<text x="350.5" y="882.0" text-anchor="end">0</text>
<text x="350.5" y="846.6" text-anchor="end">0.5</text>
<text x="350.5" y="811.1" text-anchor="end">1</text>
<text x="350.5" y="775.7" text-anchor="end">1.5</text>
<text x="350.5" y="740.2" text-anchor="end">2</text>
<text x="350.5" y="704.8" text-anchor="end">2.5</text>
</g>
<text transform="translate(314.70,891.70) rotate(-90)" font-size="38.09" textLength="196.05" lengthAdjust="spacingAndGlyphs" fill="#000">Voltage (V)</text>
<polyline points="352.8,879.0 629.8,879.0 629.9,752.0 630.5,747.0 631.5,750.5 632.3,745.0 633.2,748.5 634.0,743.0 634.8,746.0 635.3,765.5 635.8,745.0 636.6,740.5 637.6,744.5 638.8,746.6 640.2,745.2 642.2,747.7 643.8,745.0 645.5,743.9 647.5,745.8 650.0,747.2 652.0,749.5 653.8,750.0 655.2,747.8 656.6,746.6 658.5,745.2 661.0,743.9 663.3,741.1 667.7,740.0 673.0,739.6 678.8,738.9 689.9,738.3 699.9,737.8 720.0,737.6 745.0,737.9 760.0,738.6 770.0,739.2 780.0,738.4 800.0,737.9 820.0,738.1 839.0,738.0" fill="none" stroke="#000" stroke-width="3" stroke-linejoin="round"/>
<ellipse cx="628.3" cy="806" rx="20.5" ry="17.8" fill="none" stroke="#000" stroke-width="4.6"/>
<g stroke="#000" stroke-width="4.8" fill="none" stroke-linecap="round" stroke-linejoin="round">
<line x1="645" y1="790" x2="892.3" y2="579.6"/>
<polyline points="874.3,582.2 894.3,577.9 887.4,596.4" stroke-linejoin="miter" stroke-miterlimit="10"/>
</g>
</svg></body></html>
